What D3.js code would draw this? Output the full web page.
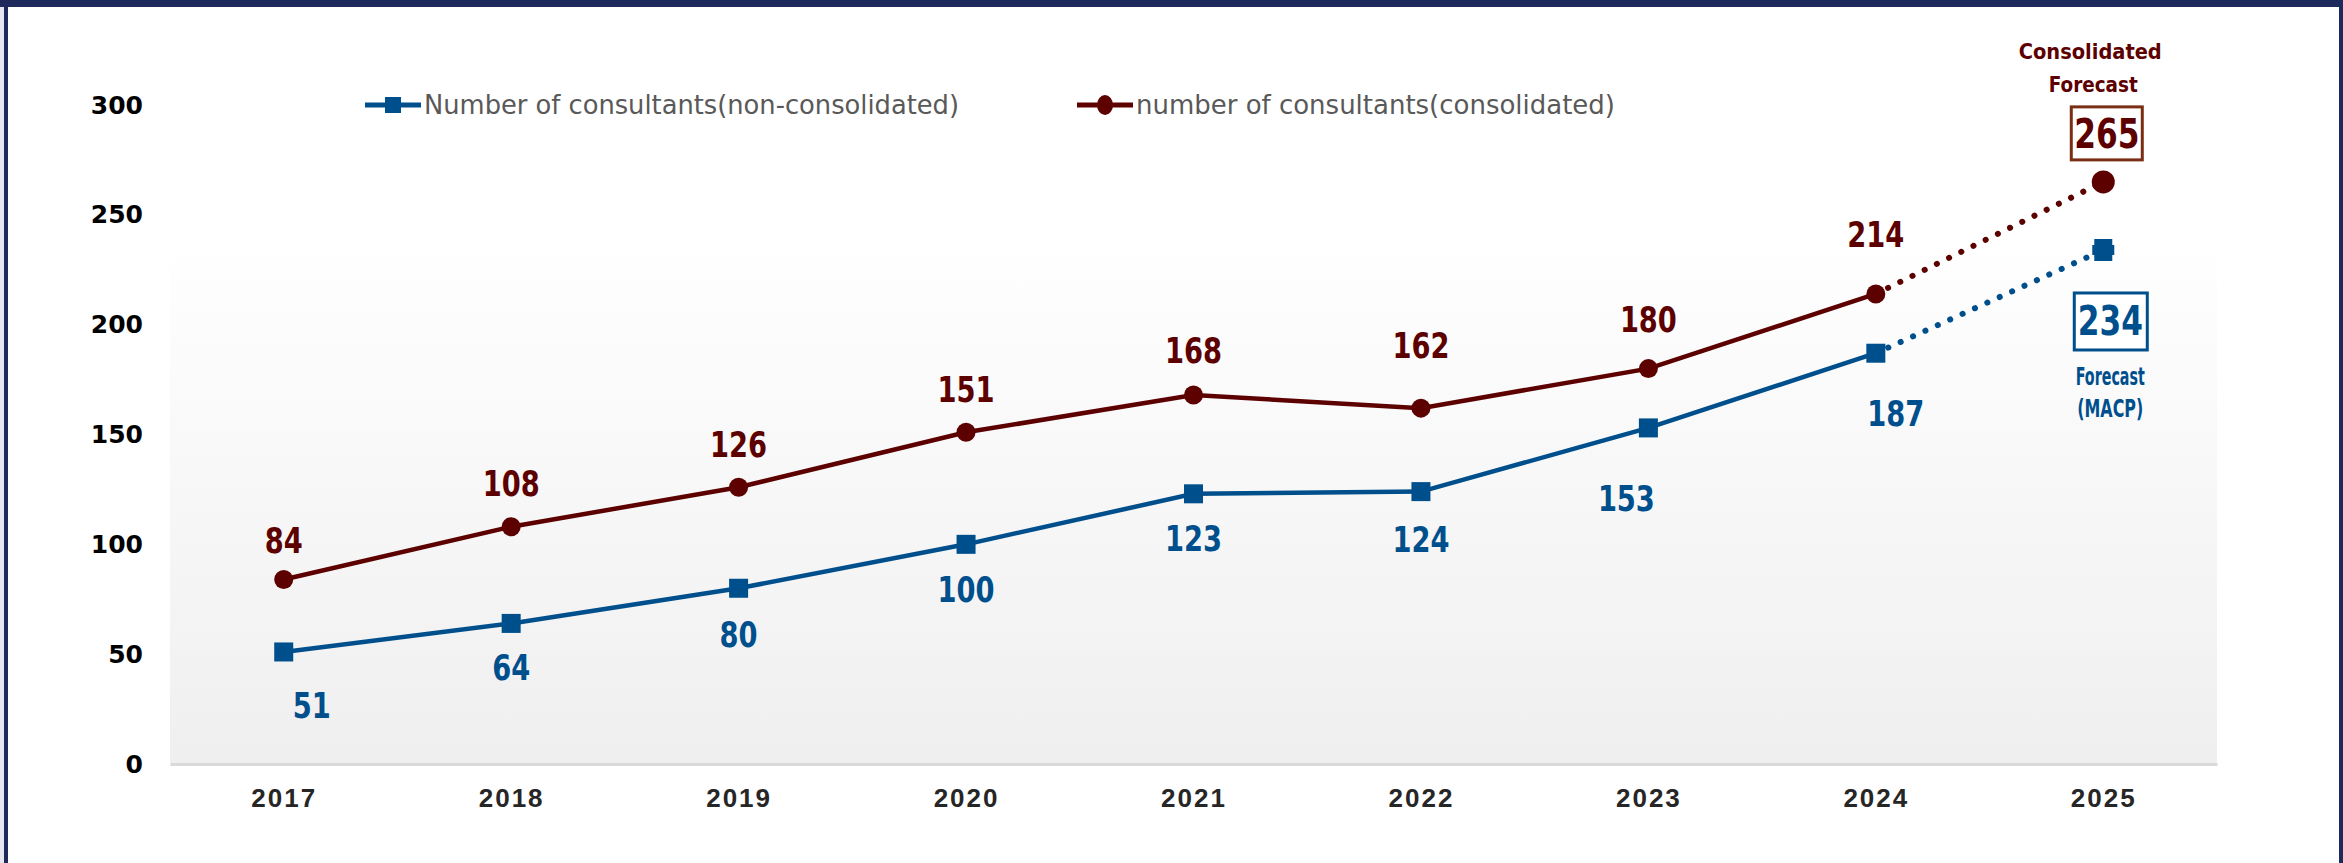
<!DOCTYPE html>
<html lang="en">
<head>
<meta charset="UTF-8">
<title>Number of consultants</title>
<script src="https://cdn.jsdelivr.net/npm/d3@7"></script>
<style>
  body { margin: 0; background: #fff; }
  svg { display: block; }
  .ylab text { font: bold 25px "DejaVu Sans", sans-serif; fill: #000; }
  .xlab text { font: bold 26px "Liberation Sans", Arial, sans-serif; fill: #262626; letter-spacing: 2px; }
  .val { font-family: "DejaVu Sans Condensed", "Liberation Sans", sans-serif; font-weight: bold; }
  .legend text { font: 27px "DejaVu Sans Condensed", "Liberation Sans", sans-serif; fill: #595959; }
</style>
</head>
<body>
<svg id="chart" width="2343" height="863"></svg>
<script>
// data
var years = ["2017", "2018", "2019", "2020", "2021", "2022", "2023", "2024", "2025"];
var nonConsolidated = [51, 64, 80, 100, 123, 124, 153, 187, 234];
var consolidated = [84, 108, 126, 151, 168, 162, 180, 214, 265];
var yTicks = [0, 50, 100, 150, 200, 250, 300];
var legendLabels = ["Number of consultants(non-consolidated)", "number of consultants(consolidated)"];

// label nudges (layout only)
var redLabelDy = [-39, -43, -43, -43, -45, -63, -49, -60];
var blueLabelDx = [28, 0, 0, 0, 0, 0, -22, 20];
var blueLabelDy = [53, 44, 46, 45, 45, 48, 70, 60];

var blue = "#004f8d", red = "#5c0000", navy = "#1f2a5c";
var digitW = 19; // calibri-like narrow digits

var svg = d3.select("#chart");

// frame
svg.append("rect").attr("x", 0).attr("y", 0).attr("width", 4).attr("height", 863).attr("fill", "#e6e7ee");
svg.append("rect").attr("x", 0).attr("y", 0).attr("width", 2343).attr("height", 7).attr("fill", navy);
svg.append("rect").attr("x", 4).attr("y", 0).attr("width", 4).attr("height", 863).attr("fill", navy);
svg.append("rect").attr("x", 2339).attr("y", 0).attr("width", 4).attr("height", 863).attr("fill", navy);

var x = d3.scalePoint().domain(years).range([170, 2217]).padding(0.5);
var y = d3.scaleLinear().domain([0, 300]).range([764, 105]);

// plot area gradient
var grad = svg.append("defs").append("linearGradient")
    .attr("id", "bg").attr("x1", 0).attr("y1", 0).attr("x2", 0).attr("y2", 1);
grad.append("stop").attr("offset", "0%").attr("stop-color", "#ffffff");
grad.append("stop").attr("offset", "20%").attr("stop-color", "#ffffff");
grad.append("stop").attr("offset", "100%").attr("stop-color", "#efefef");
svg.append("rect")
    .attr("x", 170).attr("y", y(300))
    .attr("width", 2217 - 170).attr("height", y(0) - y(300))
    .attr("fill", "url(#bg)");

// axes
var yAxis = svg.append("g").attr("class", "ylab")
    .attr("transform", "translate(170,0)")
    .call(d3.axisLeft(y).tickValues(yTicks).tickSize(0).tickPadding(27));
yAxis.select(".domain").remove();

var xAxis = svg.append("g").attr("class", "xlab")
    .attr("transform", "translate(0," + y(0) + ")")
    .call(d3.axisBottom(x).tickSize(0).tickSizeOuter(0).tickPadding(25));
xAxis.select(".domain").attr("stroke", "#d9d9d9").attr("stroke-width", 3);

var line = d3.line().x(function(d) { return x(d.year); }).y(function(d) { return y(d.v); });

function series(vals) {
  return vals.map(function(v, i) { return {year: years[i], v: v}; });
}
var blueData = series(nonConsolidated);
var redData = series(consolidated);
var n = years.length;

// solid parts
svg.append("path").datum(redData.slice(0, n - 1))
    .attr("d", line).attr("fill", "none").attr("stroke", red).attr("stroke-width", 4.5);
svg.append("path").datum(blueData.slice(0, n - 1))
    .attr("d", line).attr("fill", "none").attr("stroke", blue).attr("stroke-width", 4.5);

// forecast dotted parts
svg.append("path").datum(redData.slice(n - 2))
    .attr("d", line).attr("fill", "none").attr("stroke", red).attr("stroke-width", 6)
    .attr("stroke-linecap", "round").attr("stroke-dasharray", "0.1 13.5");
svg.append("path").datum(blueData.slice(n - 2))
    .attr("d", line).attr("fill", "none").attr("stroke", blue).attr("stroke-width", 6)
    .attr("stroke-linecap", "round").attr("stroke-dasharray", "0.1 13.5");

// markers
svg.append("g").selectAll("circle").data(redData).enter().append("circle")
    .attr("cx", function(d) { return x(d.year); })
    .attr("cy", function(d) { return y(d.v); })
    .attr("r", function(d, i) { return i == n - 1 ? 11.5 : 9.5; })
    .attr("fill", red);
svg.append("g").selectAll("rect").data(blueData.slice(0, n - 1)).enter().append("rect")
    .attr("x", function(d) { return x(d.year) - 9.5; })
    .attr("y", function(d) { return y(d.v) - 9.5; })
    .attr("width", 19).attr("height", 19)
    .attr("fill", blue);
// 2025 marker looks like a square with a cross through it
var last = blueData[n - 1];
svg.append("rect").attr("x", x(last.year) - 9).attr("y", y(last.v) - 11).attr("width", 18).attr("height", 22).attr("fill", blue);
svg.append("rect").attr("x", x(last.year) - 11).attr("y", y(last.v) - 5).attr("width", 22).attr("height", 10).attr("fill", blue);

function numLabel(sel, size) {
  return sel.attr("class", "val")
      .attr("dy", "0.36em")
      .attr("text-anchor", "middle")
      .attr("font-size", size)
      .attr("lengthAdjust", "spacingAndGlyphs")
      .attr("textLength", function(d) { return String(d.v).length * digitW * size / 35; })
      .text(function(d) { return d.v; });
}

// value labels
svg.append("g").selectAll("text").data(redData.slice(0, n - 1)).enter().append("text")
    .attr("x", function(d) { return x(d.year); })
    .attr("y", function(d, i) { return y(d.v) + redLabelDy[i]; })
    .attr("fill", red)
    .call(numLabel, 35);
svg.append("g").selectAll("text").data(blueData.slice(0, n - 1)).enter().append("text")
    .attr("x", function(d, i) { return x(d.year) + blueLabelDx[i]; })
    .attr("y", function(d, i) { return y(d.v) + blueLabelDy[i]; })
    .attr("fill", blue)
    .call(numLabel, 35);

// forecast call-outs
var fx = x(years[n - 1]);
function note(txt, cx, cy, w, size, c) {
  svg.append("text").attr("class", "val")
      .attr("x", cx).attr("y", cy).attr("dy", "0.36em")
      .attr("text-anchor", "middle").attr("font-size", size).attr("fill", c)
      .attr("textLength", w).attr("lengthAdjust", "spacingAndGlyphs")
      .text(txt);
}

svg.append("rect").attr("x", fx - 32).attr("y", y(consolidated[n - 1]) - 75)
    .attr("width", 71).attr("height", 53).attr("fill", "#fff")
    .attr("stroke", "#7a2e14").attr("stroke-width", 3);
svg.append("text").datum(redData[n - 1])
    .attr("x", fx + 3.5).attr("y", y(consolidated[n - 1]) - 48)
    .attr("fill", red)
    .call(numLabel, 40);
note("Consolidated", fx - 13, 51, 143, 22, red);
note("Forecast", fx - 10, 84, 89, 22, red);

svg.append("rect").attr("x", fx - 29).attr("y", y(nonConsolidated[n - 1]) + 43)
    .attr("width", 73).attr("height", 57).attr("fill", "#fff")
    .attr("stroke", blue).attr("stroke-width", 3);
svg.append("text").datum(blueData[n - 1])
    .attr("x", fx + 7).attr("y", y(nonConsolidated[n - 1]) + 71)
    .attr("fill", blue)
    .call(numLabel, 40);
note("Forecast", fx + 7, 376, 69, 24, blue);
note("(MACP)", fx + 7, 408, 66, 24, blue);

// legend
var legend = svg.append("g").attr("class", "legend");
var legendX = [365, 1077], legendW = [535, 479];
legendLabels.forEach(function(lab, i) {
  var g = legend.append("g").attr("transform", "translate(" + legendX[i] + ",105)");
  var c = i == 0 ? blue : red;
  g.append("line").attr("x1", 0).attr("x2", 56).attr("stroke", c).attr("stroke-width", 5);
  if (i == 0) {
    g.append("rect").attr("x", 20).attr("y", -8).attr("width", 16).attr("height", 16).attr("fill", c);
  } else {
    g.append("ellipse").attr("cx", 28).attr("rx", 8).attr("ry", 10).attr("fill", c);
  }
  g.append("text").attr("x", 59).attr("dy", "0.35em")
      .attr("textLength", legendW[i]).attr("lengthAdjust", "spacingAndGlyphs")
      .text(lab);
});
</script>
</body>
</html>
